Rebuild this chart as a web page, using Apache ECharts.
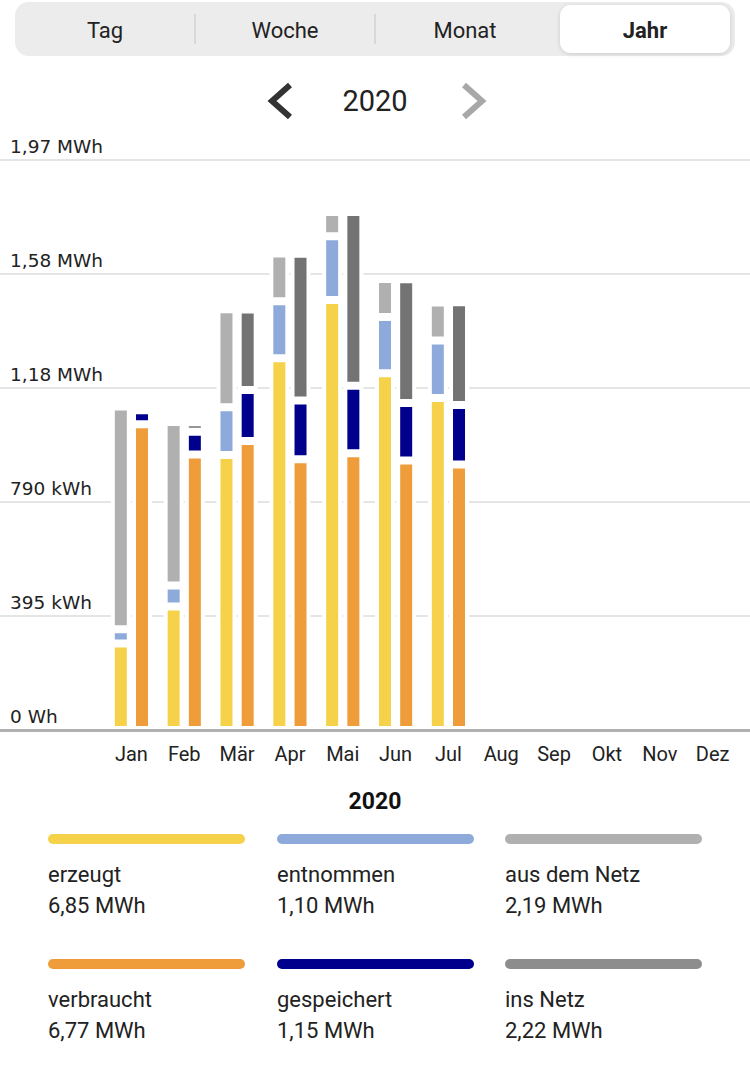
<!DOCTYPE html>
<html lang="de">

<head>
    <meta charset="UTF-8">
    <title>Jahr 2020</title>
    <script src="https://cdn.jsdelivr.net/npm/echarts@6/dist/echarts.min.js"></script>
    <style>
        * {
            margin: 0;
            padding: 0;
        }

        #chart {
            width: 750px;
            height: 1066px;
            background: #fff;
        }
    </style>
</head>

<body>
    <div id="chart"></div>
    <script>
        // Werte in kWh
        const months = ['Jan', 'Feb', 'Mär', 'Apr', 'Mai', 'Jun', 'Jul', 'Aug', 'Sep', 'Okt', 'Nov', 'Dez']
        const tickLabels = ['0 Wh', '395 kWh', '790 kWh', '1,18 MWh', '1,58 MWh', '1,97 MWh']

        // linke Säule
        const erzeugt = [300, 428, 953, 1288, 1490, 1236, 1150]
        const entnommen = [49, 73, 165, 198, 221, 195, 200]
        const ausDemNetz = [772, 566, 340, 165, 84, 132, 131]
        // rechte Säule
        const verbraucht = [1059, 955, 1001, 938, 959, 934, 920]
        const gespeichert = [49, 78, 177, 204, 234, 199, 206]
        const insNetz = [14, 33, 279, 508, 602, 429, 356]

        const legendNames = ['erzeugt', 'entnommen', 'aus dem Netz', 'verbraucht', 'gespeichert', 'ins Netz']
        const legendTotals = ['6,85 MWh', '1,10 MWh', '2,19 MWh', '6,77 MWh', '1,15 MWh', '2,22 MWh']
        const legendColors = ['#f5d24a', '#8eaadb', '#b0b0b0', '#ee9d3a', '#00008c', '#8d8d8d']

        const tabs = ['Tag', 'Woche', 'Monat', 'Jahr']

        const font = 'Roboto'
        const chart = echarts.init(document.querySelector('#chart'), null, { renderer: 'svg' })

        function barSeries(name, data, stack, color) {
            return {
                name: name,
                type: 'bar',
                xAxisIndex: 1,
                yAxisIndex: 1,
                stack: stack,
                barWidth: 20,
                barGap: '6%',
                data: data,
                itemStyle: {
                    color: color,
                    borderColor: '#fff',
                    borderWidth: 4
                }
            }
        }

        // ---- Kopfbereich und Legende als graphic ----
        const graphic = []
        graphic.push({
            type: 'rect',
            shape: { x: 15, y: 2, width: 720, height: 54, r: 14 },
            style: { fill: '#ececec' }
        })
        graphic.push({
            type: 'rect',
            shape: { x: 560, y: 5, width: 170, height: 48, r: 11 },
            style: { fill: '#fff', shadowBlur: 4, shadowColor: 'rgba(0,0,0,0.15)', shadowOffsetY: 1 }
        })
        ;[195, 375].forEach(x => {
            graphic.push({
                type: 'line',
                shape: { x1: x, y1: 14, x2: x, y2: 44 },
                style: { stroke: '#d2d2d2', lineWidth: 1.5 }
            })
        })
        tabs.forEach((t, i) => {
            graphic.push({
                type: 'text',
                x: 105 + i * 180,
                y: 30,
                style: {
                    text: t,
                    fill: '#222',
                    font: (i === 3 ? 'bold ' : '') + '22px ' + font,
                    textAlign: 'center',
                    textVerticalAlign: 'middle'
                }
            })
        })
        // Jahr-Navigation
        graphic.push({
            type: 'polyline',
            shape: { points: [[290, 85], [272, 101], [290, 117]] },
            style: { stroke: '#333', lineWidth: 6, fill: null }
        })
        graphic.push({
            type: 'polyline',
            shape: { points: [[464, 85], [482, 101], [464, 117]] },
            style: { stroke: '#a8a8a8', lineWidth: 6, fill: null }
        })
        graphic.push({
            type: 'text',
            x: 375,
            y: 101,
            style: { text: '2020', fill: '#222', font: '29px ' + font, textAlign: 'center', textVerticalAlign: 'middle' }
        })
        graphic.push({
            type: 'text',
            x: 375,
            y: 801,
            style: { text: '2020', fill: '#111', font: 'bold 23px ' + font, textAlign: 'center', textVerticalAlign: 'middle' }
        })

        const colX = [48, 277, 505]
        const rowY = [839, 964]
        legendNames.forEach((name, i) => {
            const x = colX[i % 3]
            const y = rowY[Math.floor(i / 3)]
            graphic.push({
                type: 'line',
                shape: { x1: x + 5, y1: y, x2: x + 192, y2: y },
                style: { stroke: legendColors[i], lineWidth: 10, lineCap: 'round' }
            })
            graphic.push({
                type: 'text',
                x: x,
                y: y + 35,
                style: { text: name, fill: '#222', font: '22px ' + font, textVerticalAlign: 'middle' }
            })
            graphic.push({
                type: 'text',
                x: x,
                y: y + 66,
                style: { text: legendTotals[i], fill: '#222', font: '22px ' + font, textVerticalAlign: 'middle' }
            })
        })

        const option = {
            animation: false,
            backgroundColor: '#fff',
            grid: [
                { left: 0, right: 0, top: 160, bottom: 336 },
                { left: 105, right: 11, top: 160, bottom: 336 }
            ],
            xAxis: [
                {
                    gridIndex: 0,
                    type: 'category',
                    data: [''],
                    z: 10,
                    axisLine: { lineStyle: { color: '#b0b0b0', width: 3 } },
                    axisTick: { show: false },
                    axisLabel: { show: false }
                },
                {
                    gridIndex: 1,
                    type: 'category',
                    data: months,
                    axisLine: { show: false },
                    axisTick: { show: false },
                    axisLabel: { color: '#222', fontSize: 20, fontFamily: font, margin: 14 }
                }
            ],
            yAxis: [
                {
                    gridIndex: 0,
                    type: 'value',
                    min: 0,
                    max: 1975,
                    interval: 395,
                    axisLine: { show: false },
                    axisTick: { show: false },
                    splitLine: { lineStyle: { color: '#dcdcdc', width: 1.5 } },
                    axisLabel: {
                        inside: true,
                        margin: 10,
                        verticalAlign: 'bottom',
                        padding: [0, 0, 4, 0],
                        color: '#222',
                        fontSize: 18.5,
                        fontFamily: 'DejaVu Sans',
                        formatter: (v, i) => tickLabels[i]
                    }
                },
                {
                    gridIndex: 1,
                    type: 'value',
                    min: 0,
                    max: 1975,
                    interval: 395,
                    show: false
                }
            ],
            series: [
                barSeries('erzeugt', erzeugt, 'links', '#f5d24a'),
                barSeries('entnommen', entnommen, 'links', '#8eaadb'),
                barSeries('aus dem Netz', ausDemNetz, 'links', '#b0b0b0'),
                barSeries('verbraucht', verbraucht, 'rechts', '#ee9d3a'),
                barSeries('gespeichert', gespeichert, 'rechts', '#00008c'),
                barSeries('ins Netz', insNetz, 'rechts', '#737373')
            ],
            graphic: graphic
        }

        chart.setOption(option)
    </script>
</body>

</html>
